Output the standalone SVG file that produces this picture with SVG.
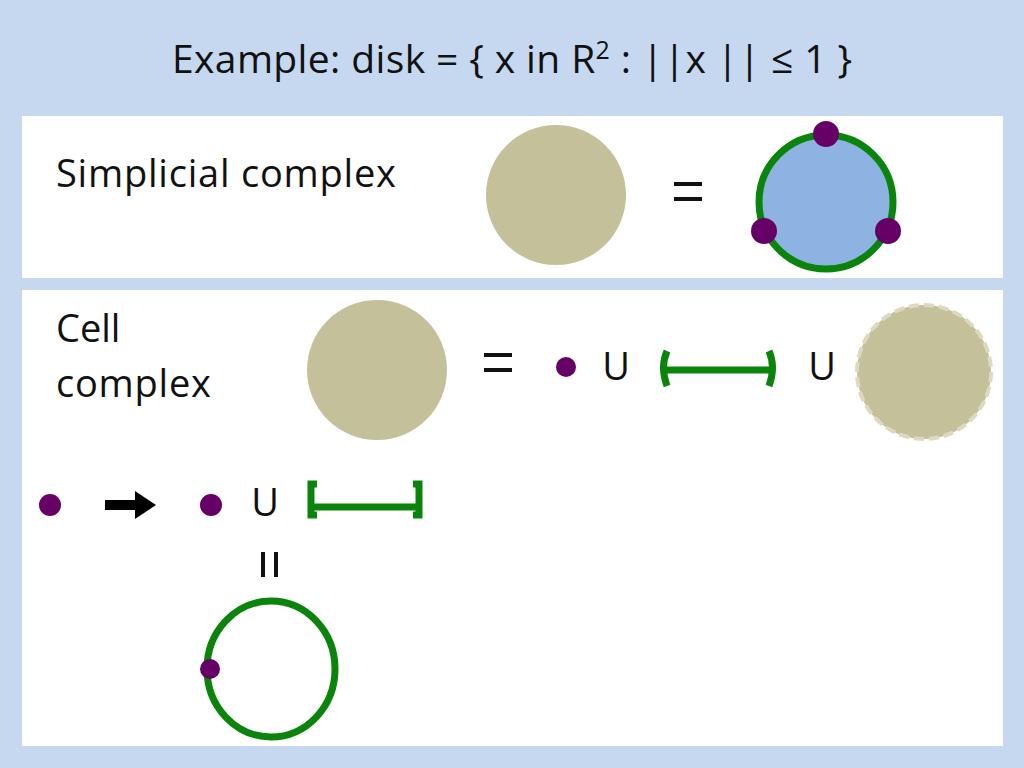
<svg xmlns="http://www.w3.org/2000/svg" width="1024" height="768" viewBox="0 0 1024 768">
<style>
text{font-family:"Open Sans","Noto Sans",sans-serif;fill:#111}
.disk{fill:#c4c09a}
.dot{fill:#660066}
.g{stroke:#0a840a;fill:none;stroke-width:7}
.eq{stroke:#111;stroke-width:4}
</style>
<rect width="1024" height="768" fill="#c5d8ef"/>
<text x="512" y="73" font-size="39" text-anchor="middle" textLength="680">Example: disk = { x in R<tspan font-size="25" dy="-14">2</tspan><tspan dy="14"> :  ||x || ≤ 1 }</tspan></text>
<rect x="22" y="116" width="981" height="162" fill="#fff"/>
<rect x="22" y="290" width="981" height="456" fill="#fff"/>
<g id="simplicial">
<text x="56" y="187" font-size="38" textLength="340">Simplicial complex</text>
<circle cx="556" cy="195" r="70" class="disk"/>
<path d="M674 184 H702 M674 199 H702" class="eq"/>
<circle cx="826" cy="202" r="67" class="g" style="fill:#8db3e2"/>
<circle cx="826" cy="134" r="13" class="dot"/>
<circle cx="764" cy="231" r="13" class="dot"/>
<circle cx="888" cy="231" r="13" class="dot"/>
</g>
<g id="cell">
<text x="56" y="342" font-size="38">Cell</text>
<text x="56" y="397" font-size="38" textLength="155">complex</text>
<circle cx="377" cy="370" r="70" class="disk"/>
<path d="M484 355 H512 M484 370 H512" class="eq"/>
<circle cx="566" cy="367" r="10" class="dot"/>
<text x="616" y="380" font-size="38" text-anchor="middle">U</text>
<path d="M667 351 Q660 367 667 386 M667 370 H770 M769 351 Q776 367 769 386" class="g"/>
<text x="822" y="380" font-size="38" text-anchor="middle">U</text>
<circle cx="924" cy="372" r="67" class="disk" stroke="#ddd9c0" stroke-width="4" stroke-dasharray="10 5"/>
</g>
<g id="attach">
<circle cx="50" cy="505" r="11" class="dot"/>
<path d="M105 500 H135 V491 L156 505 L135 519 V510 H105Z" fill="#000"/>
<circle cx="211" cy="505" r="11" class="dot"/>
<text x="265" y="516" font-size="38" text-anchor="middle">U</text>
<path d="M317 484 H311 V515 H317 M311 507 H419 M413 484 H419 V515 H413" class="g" stroke-width="6"/>
<path d="M263 552 V577 M276 552 V577" class="eq"/>
<ellipse cx="271" cy="669" rx="64" ry="68" class="g"/>
<circle cx="210" cy="669" r="10" class="dot"/>
</g>
</svg>
